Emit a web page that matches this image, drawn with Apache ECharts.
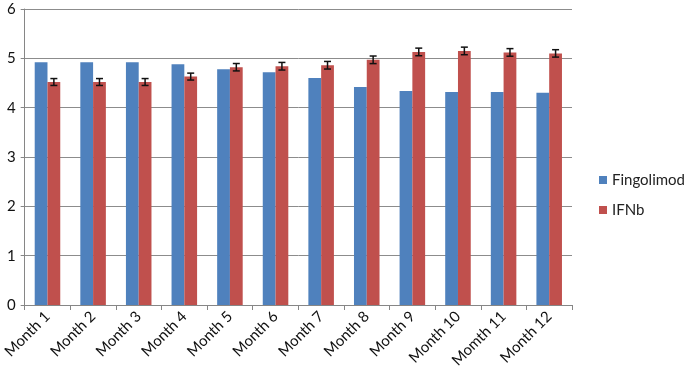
<!DOCTYPE html>
<html><head><meta charset="utf-8">
<script src="https://cdn.jsdelivr.net/npm/echarts@6/dist/echarts.min.js"></script>
<style>html,body{margin:0;padding:0;background:#fff}#c{width:685px;height:375px}</style>
</head><body><div id="c"></div>
<script>
const categories = ['Month 1','Month 2','Month 3','Month 4','Month 5','Month 6','Month 7','Month 8','Month 9','Month 10','Momth 11','Month 12'];
const fingolimod = [4.92,4.92,4.92,4.88,4.78,4.72,4.60,4.42,4.34,4.32,4.32,4.30];
const ifnb = [4.52,4.52,4.52,4.63,4.82,4.84,4.86,4.97,5.13,5.15,5.12,5.10];
const ifnbErr = [0.07,0.07,0.07,0.07,0.075,0.077,0.077,0.077,0.077,0.077,0.077,0.075];
const yTicks = [0,1,2,3,4,5,6];

const errData = ifnb.map((v,i)=>[i, v-ifnbErr[i], v+ifnbErr[i]]);
const chart = echarts.init(document.getElementById('c'));
const font = 'Lato, "Open Sans", sans-serif';
chart.setOption({
  animation:false,
  grid:{left:23,right:113,top:9,bottom:70,containLabel:false},
  legend:{
    orient:'vertical', left:594, top:166, itemWidth:8, itemHeight:8, itemGap:12,
    icon:'rect',
    textStyle:{fontFamily:font,fontSize:15,color:'#222',lineHeight:18},
    data:['Fingolimod','IFNb']
  },
  xAxis:{
    type:'category', data:categories,
    axisLine:{lineStyle:{color:'#868686'}},
    axisTick:{show:true,length:5,lineStyle:{color:'#868686'},alignWithLabel:false},
    axisLabel:{rotate:45,margin:9,fontFamily:font,fontSize:15,color:'#111',interval:0}
  },
  yAxis:{
    type:'value', min:yTicks[0], max:yTicks[yTicks.length-1], interval:1,
    axisLine:{show:true,lineStyle:{color:'#868686'}},
    axisTick:{show:true,length:4,lineStyle:{color:'#868686'}},
    splitLine:{lineStyle:{color:'#8c8c8c',width:1}},
    axisLabel:{margin:9,fontFamily:font,fontSize:15,color:'#111'}
  },
  series:[
    {name:'Fingolimod',type:'bar',data:fingolimod,barGap:'0%',barCategoryGap:'44%',
     itemStyle:{color:'#4F81BD'}},
    {name:'IFNb',type:'bar',data:ifnb,barGap:'0%',barCategoryGap:'44%',
     itemStyle:{color:'#C0504D'}},
    {name:'err',type:'custom',data:errData,z:10,
     renderItem:function(params,api){
       const idx=api.value(0);
       const lo=api.coord([idx,api.value(1)]);
       const hi=api.coord([idx,api.value(2)]);
       const band=api.size([1,0])[0];
       const x=lo[0]+band*0.14;
       const cw=3.5;
       const st={stroke:'#111',lineWidth:1.5};
       return {type:'group',children:[
         {type:'line',shape:{x1:x,y1:lo[1],x2:x,y2:hi[1]},style:st},
         {type:'line',shape:{x1:x-cw,y1:lo[1],x2:x+cw,y2:lo[1]},style:st},
         {type:'line',shape:{x1:x-cw,y1:hi[1],x2:x+cw,y2:hi[1]},style:st}
       ]};
     },
     encode:{x:0,y:[1,2]}}
  ]
});
</script></body></html>
